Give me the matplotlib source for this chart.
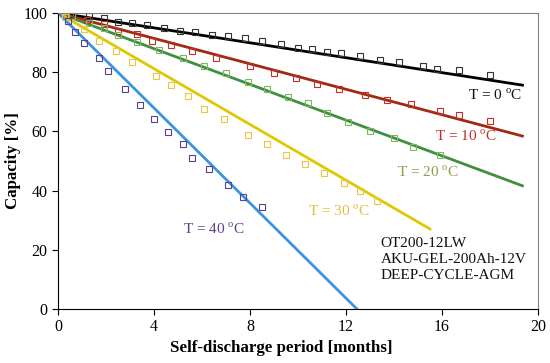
import matplotlib
matplotlib.use("Agg")
import matplotlib.pyplot as plt

plt.rcParams['font.family'] = ['Liberation Serif', 'DejaVu Serif']
plt.rcParams['mathtext.fontset'] = 'custom'
plt.rcParams['mathtext.rm'] = 'Liberation Serif'

# measured points (months, capacity %)
t0_x = [0.5, 1.3, 1.9, 2.5, 3.1, 3.7, 4.4, 5.1, 5.7, 6.4, 7.1, 7.8, 8.5, 9.3, 10.0,
        10.6, 11.2, 11.8, 12.6, 13.4, 14.2, 15.2, 15.8, 16.7, 18.0]
t0_y = [99.7, 98.8, 98.2, 97.1, 96.7, 95.9, 95.0, 93.9, 93.6, 92.7, 92.2, 91.6, 90.5, 89.5, 88.3,
        87.8, 86.7, 86.4, 85.5, 84.1, 83.4, 82.2, 81.1, 80.7, 79.0]

t10_x = [0.5, 1.2, 1.9, 2.5, 3.3, 3.9, 4.7, 5.6, 6.6, 8.0, 9.0, 9.9, 10.8, 11.7, 12.8,
         13.7, 14.7, 15.9, 16.7, 18.0]
t10_y = [99.3, 97.6, 96.3, 94.0, 92.8, 90.4, 89.2, 87.3, 84.9, 82.2, 79.8, 77.9, 76.0, 74.2, 72.3,
         70.6, 69.3, 66.9, 65.5, 63.6]

t20_x = [0.6, 1.3, 1.9, 2.5, 3.3, 4.2, 5.2, 6.1, 7.0, 7.9, 8.7, 9.6, 10.4, 11.2, 12.1,
         13.0, 14.0, 14.8, 15.9]
t20_y = [98.8, 96.6, 94.8, 92.6, 90.3, 87.5, 84.7, 81.9, 79.8, 76.5, 74.2, 71.5, 69.7, 66.3, 63.2,
         60.1, 57.7, 54.8, 52.0]

t30_x = [0.3, 1.1, 1.7, 2.4, 3.1, 4.1, 4.7, 5.4, 6.1, 6.9, 7.9, 8.7, 9.5, 10.3, 11.1,
         11.9, 12.6, 13.3]
t30_y = [98.5, 94.5, 90.5, 87.2, 83.5, 78.7, 75.7, 71.9, 67.7, 64.2, 58.9, 55.7, 52.0, 49.0, 45.8,
         42.7, 40.0, 36.5]

t40_x = [0.4, 0.7, 1.1, 1.7, 2.1, 2.8, 3.4, 4.0, 4.6, 5.2, 5.6, 6.3, 7.1, 7.7, 8.5]
t40_y = [97.4, 93.7, 89.8, 84.7, 80.5, 74.2, 68.8, 64.1, 59.7, 55.7, 50.9, 47.3, 41.9, 37.9, 34.4]

# fitted lines (start / end)
fit0 = ([0, 19.35], [100, 75.6])
fit10 = ([0, 19.35], [100, 58.4])
fit20 = ([0, 19.35], [100, 41.6])
fit30 = ([0, 15.5], [100, 27.0])
fit40 = ([0, 12.45], [100, 0])

fig = plt.figure(figsize=(5.5, 3.63), dpi=100)
ax = fig.add_axes([0.1055, 0.149, 0.8727, 0.8154])

ax.plot(*fit0, color='#000000', lw=2)
ax.plot(*fit10, color='#a02a12', lw=2)
ax.plot(*fit20, color='#3e9040', lw=2)
ax.plot(*fit30, color='#e0c800', lw=2)
ax.plot(*fit40, color='#3a94e0', lw=2)

mk = dict(ls='none', marker='s', ms=4.2, mfc='none', mew=0.8)
ax.plot(t0_x, t0_y, mec='#333333', **mk)
ax.plot(t10_x, t10_y, mec='#c0302a', **mk)
ax.plot(t20_x, t20_y, mec='#7cb85a', **mk)
ax.plot(t30_x, t30_y, mec='#e6c840', **mk)
ax.plot(t40_x, t40_y, mec='#5a4090', **mk)

fs = 11
deg = r'$^{\mathrm{o}}$'
ax.text(19.33, 72.3, 'T = 0 ' + deg + 'C', color='#111111', fontsize=fs, ha='right', va='center')
ax.text(17.0, 58.2, 'T = 10 ' + deg + 'C', color='#c0302a', fontsize=fs, ha='center', va='center')
ax.text(15.4, 46.1, 'T = 20 ' + deg + 'C', color='#8aa050', fontsize=fs, ha='center', va='center')
ax.text(11.7, 32.9, 'T = 30 ' + deg + 'C', color='#e0c040', fontsize=fs, ha='center', va='center')
ax.text(6.5, 27.0, 'T = 40 ' + deg + 'C', color='#5a4090', fontsize=fs, ha='center', va='center')

ax.text(13.45, 16.8, 'OT200-12LW\nAKU-GEL-200Ah-12V\nDEEP-CYCLE-AGM',
        fontsize=fs, ha='left', va='center', linespacing=1.3, color='#111111')

ax.set_xlim(0, 20)
ax.set_ylim(0, 100)
ax.set_xticks([0, 4, 8, 12, 16, 20])
ax.set_yticks([0, 20, 40, 60, 80, 100])
ax.tick_params(direction='out', length=4, labelsize=11.5, width=0.8)
ax.set_xlabel('Self-discharge period [months]', fontsize=12.2, fontweight='bold', labelpad=1)
ax.xaxis.set_label_coords(0.466, -0.105)
ax.set_ylabel('Capacity [%]', fontsize=12.2, fontweight='bold', labelpad=2)
ax.spines['top'].set_color('#808080')
ax.spines['right'].set_color('#808080')

fig.savefig('out.png', dpi=100)
